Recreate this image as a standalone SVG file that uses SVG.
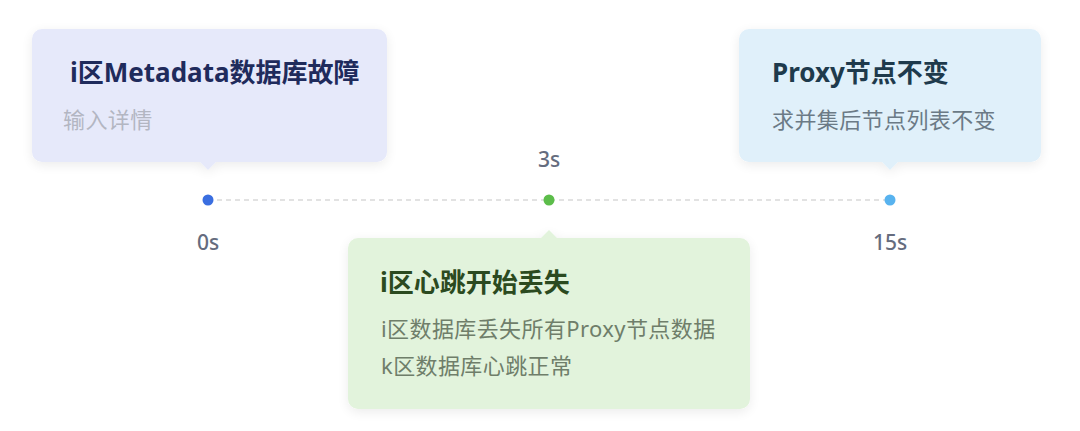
<svg xmlns="http://www.w3.org/2000/svg" width="1080" height="431" viewBox="0 0 1080 431">
  <defs>
    <filter id="sh" x="-10%" y="-10%" width="120%" height="130%">
      <feGaussianBlur in="SourceAlpha" stdDeviation="6"/>
      <feOffset dy="3" result="b"/>
      <feComponentTransfer><feFuncA type="linear" slope="0.08"/></feComponentTransfer>
      <feMerge><feMergeNode/><feMergeNode in="SourceGraphic"/></feMerge>
    </filter>
  </defs>
  <style>
    text { font-family: "Noto Sans", "Noto Sans CJK SC", sans-serif; }
    .title { font-size: 26px; font-weight: 700; }
    .sub { font-size: 22px; letter-spacing: 0.4px; }
    .time { font-size: 21px; fill: #656c7e; text-anchor: middle; font-weight: 500; }
  </style>
  <rect width="1080" height="431" fill="#ffffff"/>

  <g id="connectors">
    <line x1="208" y1="200" x2="890" y2="200" stroke="#d9d9d9" stroke-width="1.5" stroke-dasharray="5 4"/>
  </g>

  <g id="node-0s">
    <path d="M42 29 H377 A10 10 0 0 1 387 39 V152 A10 10 0 0 1 377 162 H216 L208 170 L200 162 H42 A10 10 0 0 1 32 152 V39 A10 10 0 0 1 42 29 Z" fill="#e6e9fa" filter="url(#sh)"/>
    <text class="title" x="70" y="82" fill="#1f2b5c">i区Metadata数据库故障</text>
    <text class="sub" x="63" y="128" fill="#b3b6c2">输入详情</text>
    <circle cx="208" cy="200" r="5.5" fill="#3a6ee0"/>
    <text class="time" x="208" y="250">0s</text>
  </g>

  <g id="node-3s">
    <path d="M358 238 H541 L549 230 L557 238 H740 A10 10 0 0 1 750 248 V399 A10 10 0 0 1 740 409 H358 A10 10 0 0 1 348 399 V248 A10 10 0 0 1 358 238 Z" fill="#e2f3dc" filter="url(#sh)"/>
    <text class="title" x="380" y="292" fill="#2b4a20">i区心跳开始丢失</text>
    <text class="sub" x="381" y="337" fill="#6f7e6a">i区数据库丢失所有Proxy节点数据</text>
    <text class="sub" x="381" y="374" fill="#6f7e6a">k区数据库心跳正常</text>
    <circle cx="549" cy="200" r="5.5" fill="#5cbd4a"/>
    <text class="time" x="549" y="167">3s</text>
  </g>

  <g id="node-15s">
    <path d="M749 29 H1031 A10 10 0 0 1 1041 39 V152 A10 10 0 0 1 1031 162 H898 L890 170 L882 162 H749 A10 10 0 0 1 739 152 V39 A10 10 0 0 1 749 29 Z" fill="#e0f0fa" filter="url(#sh)"/>
    <text class="title" x="772" y="82" fill="#1e3a4c">Proxy节点不变</text>
    <text class="sub" x="772" y="128" fill="#6b7a86">求并集后节点列表不变</text>
    <circle cx="890" cy="200" r="5.5" fill="#58b3ef"/>
    <text class="time" x="890" y="250">15s</text>
  </g>
</svg>
